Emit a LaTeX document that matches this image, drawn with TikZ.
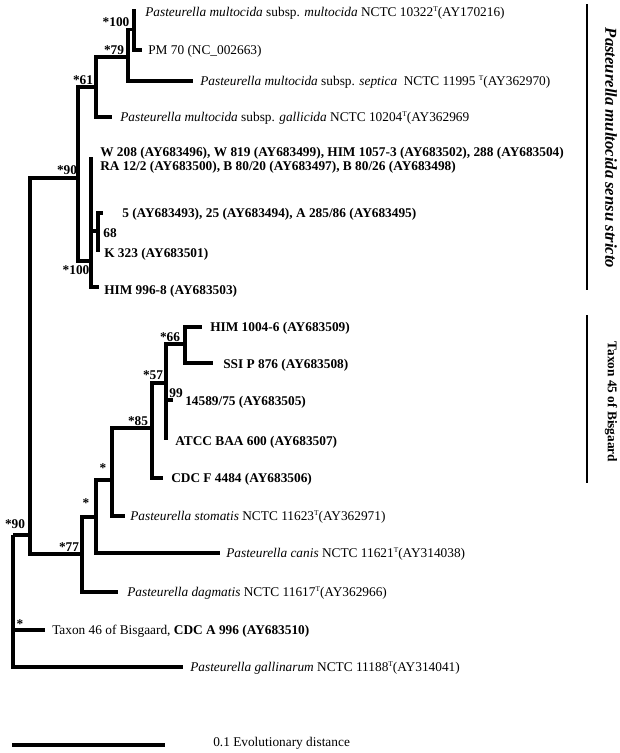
\documentclass[tikz,border=0pt]{standalone}
\usepackage{fontspec}
\setmainfont{Liberation Serif}
\newcommand{\supT}{\raisebox{0.85ex}{\fontsize{5.5}{6}\selectfont T}}
\begin{document}
\begin{tikzpicture}[x=0.75pt,y=-0.75pt,
  br/.style={line width=2.4pt},
  leaf/.style={anchor=west, inner sep=0pt, text height=1.5ex, text depth=0pt},
  bs/.style={inner sep=0pt, font=\bfseries},
  clade/.style={line width=0.8pt},
  cladetext/.style={inner sep=0pt, rotate=-90, font=\bfseries}]
\useasboundingbox (0,0) rectangle (620,753);
% internal nodes
\coordinate (R) at (13,535);
\coordinate (G) at (30,535);
\coordinate (D) at (78,178);
\coordinate (C) at (96,87);
\coordinate (B) at (128,57);
\coordinate (A) at (134,29.5);
\coordinate (E) at (91,261);
\coordinate (F) at (98,231);
\coordinate (M) at (82,554);
\coordinate (L) at (96,517);
\coordinate (K) at (112,480);
\coordinate (J) at (152,428);
\coordinate (I) at (166,383);
\coordinate (H) at (185,344);
% tips
\coordinate (tMul) at (134,9);
\coordinate (tPM) at (142,50);
\coordinate (tSep) at (193,81);
\coordinate (tGal) at (112,117);
\coordinate (tW) at (91,157);
\coordinate (t5) at (103,213);
\coordinate (tK) at (98,252);
\coordinate (tHa) at (99,287);
\coordinate (tHb) at (202,327);
\coordinate (tSSI) at (213,363);
\coordinate (t145) at (173,400);
\coordinate (tATCC) at (166,440);
\coordinate (tCDCF) at (163,478);
\coordinate (tSto) at (125,516);
\coordinate (tCan) at (220,553);
\coordinate (tDag) at (118,592);
\coordinate (tT46) at (45,630);
\coordinate (tGall) at (183,667);
% branches
\foreach \p/\c in {R/G,R/tT46,R/tGall,G/D,G/M,D/C,D/E,C/B,C/tGal,B/A,B/tSep,A/tMul,A/tPM,
  E/tW,E/F,E/tHa,F/t5,F/tK,M/L,M/tDag,L/K,L/tCan,K/J,K/tSto,J/I,J/tCDCF,I/H,I/t145,I/tATCC,H/tHb,H/tSSI}
  \draw[br] (\p) |- (\c);
% leaf labels
\node[leaf] (lMul) at (145,12) {\textit{Pasteurella multocida} subsp. \textit{multocida} NCTC 10322\supT(AY170216)};
\node[leaf] (lPM) at (148,50) {PM 70 (NC\_002663)};
\node[leaf] (lSep) at (200,81) {\textit{Pasteurella multocida} subsp. \textit{septica}\ \ NCTC 11995 \supT(AY362970)};
\node[leaf] (lGal) at (120,117) {\textit{Pasteurella multocida} subsp. \textit{gallicida} NCTC 10204\supT(AY362969};
\node[leaf,font=\bfseries] (lW1) at (100,152) {W 208 (AY683496), W 819 (AY683499), HIM 1057-3 (AY683502), 288 (AY683504)};
\node[leaf,font=\bfseries] (lW2) at (100,166) {RA 12/2 (AY683500), B 80/20 (AY683497), B 80/26 (AY683498)};
\node[leaf,font=\bfseries] (l5) at (122,213) {5 (AY683493), 25 (AY683494), A 285/86 (AY683495)};
\node[leaf,font=\bfseries] (lK) at (104,253) {K 323 (AY683501)};
\node[leaf,font=\bfseries] (lHa) at (104,290) {HIM 996-8 (AY683503)};
\node[leaf,font=\bfseries] (lHb) at (210,327) {HIM 1004-6 (AY683509)};
\node[leaf,font=\bfseries] (lSSI) at (223,364) {SSI P 876 (AY683508)};
\node[leaf,font=\bfseries] (l145) at (185,401) {14589/75 (AY683505)};
\node[leaf,font=\bfseries] (lATCC) at (175,441) {ATCC BAA 600 (AY683507)};
\node[leaf,font=\bfseries] (lCDCF) at (171,478) {CDC F 4484 (AY683506)};
\node[leaf] (lSto) at (130,516) {\textit{Pasteurella stomatis} NCTC 11623\supT(AY362971)};
\node[leaf] (lCan) at (226,553) {\textit{Pasteurella canis} NCTC 11621\supT(AY314038)};
\node[leaf] (lDag) at (127,592) {\textit{Pasteurella dagmatis} NCTC 11617\supT(AY362966)};
\node[leaf] (lT46) at (52,630) {Taxon 46 of Bisgaard, \textbf{CDC A 996 (AY683510)}};
\node[leaf] (lGall) at (190,667) {\textit{Pasteurella gallinarum} NCTC 11188\supT(AY314041)};
% bootstrap values
\node[bs] (bA) at (116,22) {*100};
\node[bs] (bB) at (114,50) {*79};
\node[bs] (bC) at (83,80) {*61};
\node[bs] (bD) at (67,170) {*90};
\node[bs] (bE) at (76,270) {*100};
\node[bs] (bF) at (110,233) {68};
\node[bs] (bH) at (170,337) {*66};
\node[bs] (bI) at (153,375) {*57};
\node[bs] (b99) at (176,393) {99};
\node[bs] (bJ) at (138,421) {*85};
\node[bs] (bK) at (103,468) {*};
\node[bs] (bL) at (86,503) {*};
\node[bs] (bG) at (15,524) {*90};
\node[bs] (bM) at (69,547) {*77};
\node[bs] (bR) at (20,624) {*};
% clade brackets
\coordinate (ca1) at (587,4);
\coordinate (ca2) at (587,290);
\coordinate (cb1) at (587,315);
\coordinate (cb2) at (587,483);
\draw[clade] (ca1) -- (ca2);
\draw[clade] (cb1) -- (cb2);
\node[cladetext,font=\bfseries\fontsize{12.5}{14}\selectfont] (tca) at (611,148) {\textit{Pasteurella multocida sensu stricto}};
\node[cladetext] (tcb) at (611,402) {Taxon 45 of Bisgaard};
% scale bar
\coordinate (sb1) at (12,745);
\coordinate (sb2) at (165,745);
\draw[br] (sb1) -- (sb2);
\node[leaf] (lsb) at (213,742) {0.1 Evolutionary distance};
\end{tikzpicture}
\end{document}
